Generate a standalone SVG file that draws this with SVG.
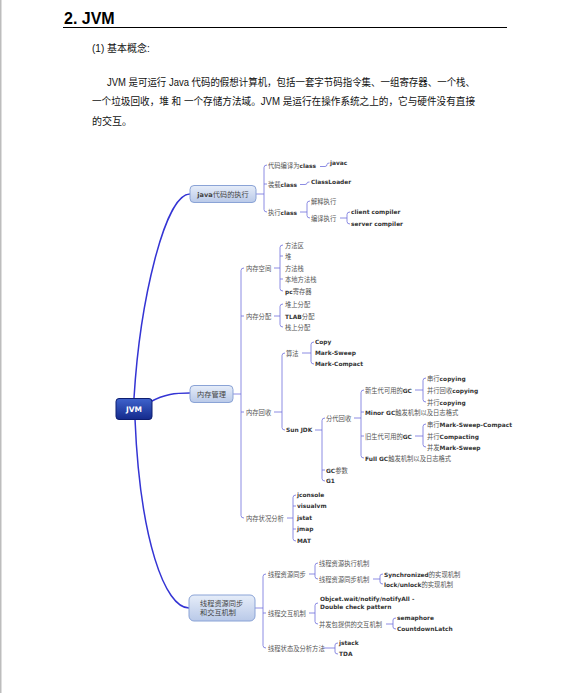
<svg xmlns="http://www.w3.org/2000/svg" width="573" height="693" viewBox="0 0 573 693">
<defs>
<linearGradient id="gLight" x1="0" y1="0" x2="0" y2="1"><stop offset="0" stop-color="#e6edf9"/><stop offset="1" stop-color="#b9c9e8"/></linearGradient>
<linearGradient id="gDark" x1="0" y1="0" x2="0" y2="1"><stop offset="0" stop-color="#3f63cc"/><stop offset="1" stop-color="#142a8c"/></linearGradient>
<style>
.h{font-family:"Liberation Sans",Arial,sans-serif;font-weight:bold;font-size:16px;fill:#000}
.p{font-family:"Liberation Sans","Noto Sans CJK SC",sans-serif;font-size:10px;fill:#111}
.c{font-family:"Noto Sans CJK SC",sans-serif;font-size:6.3px;fill:#555}
.b{font-family:"DejaVu Sans",Verdana,sans-serif;font-weight:bold;font-size:5.9px;fill:#333}
.n{font-family:"Noto Sans CJK SC",sans-serif;font-size:7.2px;fill:#444}
.nb{font-family:"DejaVu Sans",sans-serif;font-weight:bold;font-size:6.6px;fill:#444}
.main{fill:none;stroke:#3434d4;stroke-width:1.5}
.br{fill:none;stroke:#6f6fdc;stroke-width:0.8}
.lt{fill:url(#gLight);stroke:#8aa3d6;stroke-width:1}
</style>
</defs>
<rect x="0" y="0" width="573" height="693" fill="#fff"/>
<rect x="0" y="0" width="1.5" height="693" fill="#bdbdbd"/>
<g id="header">
<text class="h" x="64" y="24">2. JVM</text>
<line x1="63" y1="27.5" x2="507" y2="27.5" stroke="#000" stroke-width="1"/>
<text class="p" x="92" y="52">(1) 基本概念:</text>
<text class="p" x="107" y="86" textLength="368" lengthAdjust="spacingAndGlyphs">JVM 是可运行 Java 代码的假想计算机，包括一套字节码指令集、一组寄存器、一个栈、</text>
<text class="p" x="92" y="105" textLength="383" lengthAdjust="spacingAndGlyphs">一个垃圾回收，堆 和 一个存储方法域。JVM 是运行在操作系统之上的，它与硬件没有直接</text>
<text class="p" x="92" y="125">的交互。</text>
</g>
<g id="connectors">
<path class="main" d="M134,398 C140,300 165,194 190,194"/>
<path class="main" d="M150,402 C165,394 175,393 190,393"/>
<path class="main" d="M135,419 C140,540 165,608 189,608"/>
<path class="br" d="M256,194 H264 M267,165 Q264,165 264,167.5 V209.5 Q264,212 267,212 M264,184 H267"/>
<path class="br" d="M320,166.5 H325 Q327,166.5 327,164.5 Q327,163 329.5,163"/>
<path class="br" d="M300,184.5 H305 Q307,184.5 307,183 Q307,182 309.5,182"/>
<path class="br" d="M300,212 H307 M310,201 Q307,201 307,203.5 V215.5 Q307,218 310,218"/>
<path class="br" d="M340,218 H347 M350,212 Q347,212 347,214.5 V221.5 Q347,224 350,224"/>
<path class="br" d="M233,394 H241 M244,268 Q241,268 241,270.5 V515.5 Q241,518 244,518 M241,316 H244 M241,412 H244"/>
<path class="br" d="M274,268 H280 M283,245 Q280,245 280,247.5 V288.5 Q280,291 283,291 M280,256 H283 M280,279 H283"/>
<path class="br" d="M274,316 H280 M283,304 Q280,304 280,306.5 V324.5 Q280,327 283,327"/>
<path class="br" d="M274,412 H282 M285,353 Q282,353 282,355.5 V427.5 Q282,430 285,430"/>
<path class="br" d="M302,353 H311 M314,342 Q311,342 311,344.5 V361.5 Q311,364 314,364"/>
<path class="br" d="M315,430 H322 M325,418 Q322,418 322,420.5 V478.5 Q322,481 325,481 M322,470 H325"/>
<path class="br" d="M354,418 H361 M364,390 Q361,390 361,392.5 V455.5 Q361,458 364,458 M361,412 H364 M361,436 H364"/>
<path class="br" d="M415,390 H423 M426,378 Q423,378 423,380.5 V399.5 Q423,402 426,402"/>
<path class="br" d="M415,436 H423 M426,424 Q423,424 423,426.5 V444.5 Q423,447 426,447"/>
<path class="br" d="M287,518 H293 M296,495 Q293,495 293,497.5 V538.5 Q293,541 296,541 M293,506 H296 M293,529 H296"/>
<path class="br" d="M255,608 H263 M266,574 Q263,574 263,576.5 V645.5 Q263,648 266,648 M263,613 H266"/>
<path class="br" d="M309,574 H315 M318,563 Q315,563 315,565.5 V576.5 Q315,579 318,579"/>
<path class="br" d="M373,579 H380 M383,574 Q380,574 380,576 V582 Q380,584 383,584"/>
<path class="br" d="M309,613 H315 M318,603 Q315,603 315,605.5 V621.5 Q315,624 318,624"/>
<path class="br" d="M386,624 H393 M396,618 Q393,618 393,620 V627 Q393,629 396,629"/>
<path class="br" d="M323,648 H335 M338,643 Q335,643 335,645 V652 Q335,654 338,654"/>
</g>
<g id="jvm">
<rect x="116" y="398.5" width="36" height="21" rx="3" fill="url(#gDark)" stroke="#0e1e70" stroke-width="1"/>
<text x="134" y="412" text-anchor="middle" font-family="DejaVu Sans,sans-serif" font-weight="bold" font-size="7.5" fill="#fff">JVM</text>
</g>
<g id="java-exec">
<rect class="lt" x="190" y="185.5" width="66" height="17" rx="4"/>
<text class="n" x="223" y="196.5" text-anchor="middle"><tspan class="nb">java</tspan>代码的执行</text>
<text class="c" x="268" y="167.5">代码编译为<tspan class="b">class</tspan></text>
<text class="b" x="330" y="165">javac</text>
<text class="c" x="268" y="186.5">装载<tspan class="b">class</tspan></text>
<text class="b" x="311" y="184">ClassLoader</text>
<text class="c" x="268" y="214.5">执行<tspan class="b">class</tspan></text>
<text class="c" x="311" y="203.5">解释执行</text>
<text class="c" x="311" y="220.5">编译执行</text>
<text class="b" x="351" y="214">client compiler</text>
<text class="b" x="351" y="226">server compiler</text>
</g>
<g id="memory">
<rect class="lt" x="190" y="385.5" width="43" height="17" rx="4"/>
<text class="n" x="211.5" y="396.5" text-anchor="middle">内存管理</text>
<text class="c" x="246" y="270.5">内存空间</text>
<text class="c" x="285" y="247.5">方法区</text>
<text class="c" x="285" y="258.5">堆</text>
<text class="c" x="285" y="270.5">方法栈</text>
<text class="c" x="285" y="281.5">本地方法栈</text>
<text class="c" x="285" y="293.5"><tspan class="b">pc</tspan>寄存器</text>
<text class="c" x="246" y="318.5">内存分配</text>
<text class="c" x="285" y="306.5">堆上分配</text>
<text class="c" x="285" y="318.5"><tspan class="b">TLAB</tspan>分配</text>
<text class="c" x="285" y="329.5">栈上分配</text>
<text class="c" x="246" y="414.5">内存回收</text>
<text class="c" x="286" y="355.5">算法</text>
<text class="b" x="315" y="344">Copy</text>
<text class="b" x="315" y="355">Mark-Sweep</text>
<text class="b" x="315" y="366">Mark-Compact</text>
<text class="b" x="286" y="432">Sun JDK</text>
<text class="c" x="326" y="420.5">分代回收</text>
<text class="c" x="326" y="472.5"><tspan class="b">GC</tspan>参数</text>
<text class="b" x="326" y="483">G1</text>
<text class="c" x="365" y="392.5">新生代可用的<tspan class="b">GC</tspan></text>
<text class="c" x="365" y="414.5"><tspan class="b">Minor GC</tspan>触发机制以及日志格式</text>
<text class="c" x="365" y="438.5">旧生代可用的<tspan class="b">GC</tspan></text>
<text class="c" x="365" y="460.5"><tspan class="b">Full GC</tspan>触发机制以及日志格式</text>
<text class="c" x="427" y="380.5">串行<tspan class="b">copying</tspan></text>
<text class="c" x="427" y="392.5">并行回收<tspan class="b">copying</tspan></text>
<text class="c" x="427" y="404.5">并行<tspan class="b">copying</tspan></text>
<text class="c" x="427" y="426.5">串行<tspan class="b">Mark-Sweep-Compact</tspan></text>
<text class="c" x="427" y="438.5">并行<tspan class="b">Compacting</tspan></text>
<text class="c" x="427" y="449.5">并发<tspan class="b">Mark-Sweep</tspan></text>
<text class="c" x="246" y="520.5">内存状况分析</text>
<text class="b" x="297" y="497">jconsole</text>
<text class="b" x="297" y="508">visualvm</text>
<text class="b" x="297" y="520">jstat</text>
<text class="b" x="297" y="531">jmap</text>
<text class="b" x="297" y="543">MAT</text>
</g>
<g id="thread">
<rect class="lt" x="189" y="595" width="66" height="26" rx="5"/>
<text class="n" x="200" y="605.5">线程资源同步</text>
<text class="n" x="200" y="615">和交互机制</text>
<text class="c" x="268" y="576.5">线程资源同步</text>
<text class="c" x="319" y="565.5">线程资源执行机制</text>
<text class="c" x="319" y="581.5">线程资源同步机制</text>
<text class="c" x="384" y="576.5"><tspan class="b">Synchronized</tspan>的实现机制</text>
<text class="c" x="384" y="586.5"><tspan class="b">lock/unlock</tspan>的实现机制</text>
<text class="c" x="268" y="615.5">线程交互机制</text>
<text class="b" x="320" y="600.5">Objcet.wait/notify/notifyAll -</text>
<text class="b" x="320" y="608.5">Double check pattern</text>
<text class="c" x="319" y="626.5">并发包提供的交互机制</text>
<text class="b" x="397" y="620">semaphore</text>
<text class="b" x="397" y="631">CountdownLatch</text>
<text class="c" x="268" y="650.5">线程状态及分析方法</text>
<text class="b" x="339" y="645">jstack</text>
<text class="b" x="339" y="656">TDA</text>
</g>
</svg>
